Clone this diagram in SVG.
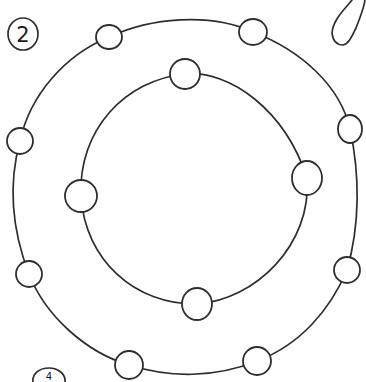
<svg xmlns="http://www.w3.org/2000/svg" width="366" height="382" viewBox="0 0 366 382">
<style>
.l{fill:none;stroke:#2e2e2e;stroke-width:1.7;stroke-linecap:round}
.n{fill:#fff;stroke:#2e2e2e;stroke-width:1.8}
.t{font-family:"DejaVu Sans","Liberation Sans",sans-serif;fill:#1a1a1a}
</style>
<rect width="366" height="382" fill="#fff"/>
<g id="rings">
<path class="l" d="M109,37 C150,18 210,12 253,32 C300,50 340,85 350,129 C360,175 360,225 347,270 C330,310 300,345 257,361 C215,378 170,378 129,365 C85,352 45,315 29,274 C12,230 8,185 20,141 C30,95 65,55 109,37 Z"/>
<path class="l" d="M185,74 C230,70 285,110 307,178 C312,245 255,300 197,304 C135,305 85,260 81,196 C78,130 125,80 185,74 Z"/>
</g>
<g id="outer-nodes">
<ellipse class="n" cx="109" cy="37" rx="13" ry="12"/>
<ellipse class="n" cx="253" cy="32" rx="14" ry="13"/>
<ellipse class="n" cx="350" cy="129" rx="12" ry="14"/>
<ellipse class="n" cx="347" cy="270" rx="13" ry="13"/>
<ellipse class="n" cx="257" cy="361" rx="14" ry="14"/>
<ellipse class="n" cx="129" cy="365" rx="14" ry="14"/>
<ellipse class="n" cx="29" cy="274" rx="13" ry="13"/>
<ellipse class="n" cx="20" cy="141" rx="13" ry="13"/>
</g>
<g id="inner-nodes">
<ellipse class="n" cx="185" cy="74" rx="15" ry="15"/>
<ellipse class="n" cx="307" cy="178" rx="15" ry="17"/>
<ellipse class="n" cx="81" cy="196" rx="16" ry="16"/>
<ellipse class="n" cx="197" cy="304" rx="15" ry="16"/>
</g>
<g id="labels">
<ellipse class="l" cx="23" cy="34" rx="15" ry="16" stroke-width="2"/>
<text class="t" x="23" y="42" font-size="21" text-anchor="middle">2</text>
<path class="l" d="M33,382 C32,373 40,368 49,368 C58,368 66,374 65,382"/>
<text class="t" x="49" y="380" font-size="10" text-anchor="middle">4</text>
<path class="l" d="M352,0 C344,10 333,20 332,33 C333,42 338,45 343,45 C349,44 352,36 356,28 C360,18 364,8 365,0"/>
</g>
</svg>
